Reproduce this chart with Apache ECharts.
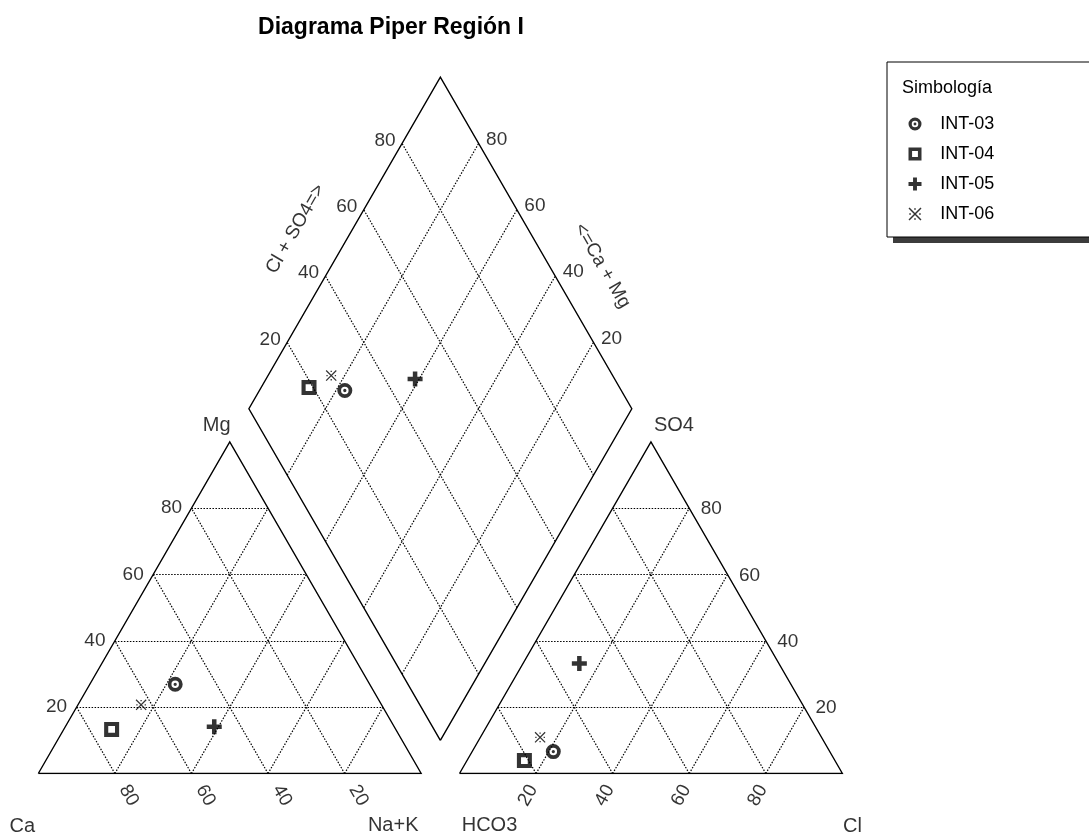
<!DOCTYPE html>
<html>
<head>
<meta charset="utf-8">
<script src="https://cdn.jsdelivr.net/npm/echarts@6/dist/echarts.min.js"></script>
<style>
  html, body { margin: 0; padding: 0; background: #fff; }
  #chart { width: 1089px; height: 838px; }
</style>
</head>
<body>
<div id="chart"></div>
<script>
// Samples and their ionic composition (% meq/L)
const samples  = ['INT-03', 'INT-04', 'INT-05', 'INT-06'];
const caPct    = [50.8, 74.2, 47.0, 62.8];
const mgPct    = [26.9, 13.3, 14.1, 20.7];
const nakPct   = [22.3, 12.5, 38.9, 16.5];
const hco3Pct  = [72.2, 81.1, 52.1, 73.5];
const so4Pct   = [6.6, 3.9, 33.2, 10.9];
const clPct    = [21.2, 15.0, 14.7, 15.6];

// Grid / tick values (%)
const tickValues = [20, 40, 60, 80];

// Layout of the three fields, in percent units (triangle side = 100)
const SIDE = 100, GAP = 10, H = Math.sqrt(3) / 2;
const X_MAX = 210, Y_MAX = 200;
const GRID_LEFT = 38.3, GRID_W = 804.1, GRID_BOTTOM = 64.5;
const PX = GRID_W / X_MAX;               // pixels per unit
const GRID_H = Y_MAX * PX;

const FONT = "'Liberation Sans', Arial, Helvetica, sans-serif";

// ternary -> cartesian
function cationXY(ca, mg, nak) { return [nak + mg / 2, mg * H]; }
function anionXY(hco3, so4, cl) { return [SIDE + GAP + cl + so4 / 2, so4 * H]; }
const B = [SIDE + GAP / 2, GAP * H];     // lower vertex of the diamond
function diamondXY(camg, clso4) {
  return [B[0] + (clso4 - camg) / 2, B[1] + (camg + clso4) * H];
}

// symbols
const SYM_CIRCLE = 'path://M10,0A10,10,0,1,1,10,20A10,10,0,1,1,10,0Z M10,5A5,5,0,1,0,10,15A5,5,0,1,0,10,5Z M10,7.8A2.2,2.2,0,1,1,10,12.2A2.2,2.2,0,1,1,10,7.8Z';
const SYM_SQUARE = 'path://M0,0L20,0L20,20L0,20Z M5.5,5.5L5.5,14.5L14.5,14.5L14.5,5.5Z';
const SYM_PLUS   = 'path://M7,0L13,0L13,7L20,7L20,13L13,13L13,20L7,20L7,13L0,13L0,7L7,7Z';
const SYM_REF    = 'path://M0,1.6L1.6,0L20,18.4L18.4,20Z M18.4,0L20,1.6L1.6,20L0,18.4Z M8.8,1.2L11.2,1.2L11.2,3.6L8.8,3.6Z M8.8,16.4L11.2,16.4L11.2,18.8L8.8,18.8Z M1.2,8.8L3.6,8.8L3.6,11.2L1.2,11.2Z M16.4,8.8L18.8,8.8L18.8,11.2L16.4,11.2Z';
const symbols = [SYM_CIRCLE, SYM_SQUARE, SYM_PLUS, SYM_REF];
const symbolSizes = [15, 15, 15, 11];

// ---- outlines
const outlines = [
  [cationXY(100, 0, 0), cationXY(0, 0, 100), cationXY(0, 100, 0), cationXY(100, 0, 0)],
  [anionXY(100, 0, 0), anionXY(0, 0, 100), anionXY(0, 100, 0), anionXY(100, 0, 0)],
  [diamondXY(0, 0), diamondXY(100, 0), diamondXY(100, 100), diamondXY(0, 100), diamondXY(0, 0)]
];

// ---- dotted grid
const gridSegs = [];
tickValues.forEach(k => {
  const r = 100 - k;
  // cation field
  gridSegs.push([cationXY(r, k, 0), cationXY(0, k, r)]);     // Mg = k
  gridSegs.push([cationXY(r, 0, k), cationXY(0, r, k)]);     // Na+K = k
  gridSegs.push([cationXY(k, 0, r), cationXY(k, r, 0)]);     // Ca = k
  // anion field
  gridSegs.push([anionXY(r, k, 0), anionXY(0, k, r)]);       // SO4 = k
  gridSegs.push([anionXY(r, 0, k), anionXY(0, r, k)]);       // Cl = k
  gridSegs.push([anionXY(k, 0, r), anionXY(k, r, 0)]);       // HCO3 = k
  // diamond
  gridSegs.push([diamondXY(k, 0), diamondXY(k, 100)]);       // Ca+Mg = k
  gridSegs.push([diamondXY(0, k), diamondXY(100, k)]);       // Cl+SO4 = k
});

// ---- text labels anchored to the fields
function lab(pt, text, dx, dy, rot, size) {
  return {
    value: [pt[0] + dx / PX, pt[1] - dy / PX],
    label: { formatter: text, rotate: rot || 0, fontSize: size || 19 }
  };
}
const labels = [];
tickValues.forEach(k => {
  const r = 100 - k;
  labels.push(lab(cationXY(r, k, 0), String(k), -20, 0));          // Mg
  labels.push(lab(cationXY(k, 0, r), String(k), 14, 22, -60));     // Ca
  labels.push(lab(anionXY(r, 0, k), String(k), -8, 22, 60));        // Cl
  labels.push(lab(anionXY(0, k, r), String(k), 22, 1));            // SO4
  labels.push(lab(diamondXY(100, k), String(k), -17, -3));          // Cl + SO4
  labels.push(lab(diamondXY(k, 100), String(k), 18, -4));           // Ca + Mg
});
labels.push(lab(diamondXY(100, 50), 'Cl + SO4=>', -49, -14, 60));
labels.push(lab(diamondXY(50, 100), '<=Ca + Mg', 66, 23, -60));
labels.push(lab(cationXY(100, 0, 0), 'Ca', -16, 53, 0, 20));
labels.push(lab(cationXY(0, 0, 100), 'Na+K', -28, 52, 0, 20));
labels.push(lab(cationXY(0, 100, 0), 'Mg', -13, -16, 0, 20));
labels.push(lab(anionXY(100, 0, 0), 'HCO3', 30, 52, 0, 20));
labels.push(lab(anionXY(0, 0, 100), 'Cl', 10, 53, 0, 20));
labels.push(lab(anionXY(0, 100, 0), 'SO4', 23, -16, 0, 20));

// ---- sample points in the three fields
const sampleSeries = samples.map((name, i) => ({
  name,
  type: 'scatter',
  symbol: symbols[i],
  symbolSize: symbolSizes[i],
  symbolKeepAspect: true,
  clip: false,
  z: 5,
  itemStyle: { color: '#000' },
  emphasis: { disabled: true },
  data: [
    cationXY(caPct[i], mgPct[i], nakPct[i]),
    anionXY(hco3Pct[i], so4Pct[i], clPct[i]),
    diamondXY(caPct[i] + mgPct[i], clPct[i] + so4Pct[i])
  ]
}));

const chart = echarts.init(document.getElementById('chart'), null, { renderer: 'canvas' });
chart.setOption({
  animation: false,
  backgroundColor: '#fff',
  title: {
    text: 'Diagrama Piper Región I',
    left: 386, top: 11, textAlign: 'center',
    textStyle: { fontFamily: FONT, fontSize: 23, fontWeight: 'bold', color: '#000' }
  },
  grid: { left: GRID_LEFT, width: GRID_W, bottom: GRID_BOTTOM, height: GRID_H },
  xAxis: { type: 'value', min: 0, max: X_MAX, show: false },
  yAxis: { type: 'value', min: 0, max: Y_MAX, show: false },
  legend: {
    data: samples,
    orient: 'vertical',
    left: 903.5, top: 110,
    itemWidth: 40.5, itemHeight: 13, itemGap: 12,
    selectedMode: false,
    textStyle: { fontFamily: FONT, fontSize: 18, lineHeight: 18, color: '#000' }
  },
  graphic: [
    { type: 'rect', shape: { x: 893, y: 68, width: 215, height: 175 }, style: { fill: '#3c3c3c' }, z: 0 },
    { type: 'rect', shape: { x: 887, y: 62, width: 215, height: 175 }, style: { fill: '#fff', stroke: '#000', lineWidth: 1 }, z: 1 },
    { type: 'text', x: 902, y: 88, style: { text: 'Simbología', fontFamily: FONT, fontSize: 18, fill: '#000', verticalAlign: 'middle' }, z: 2 }
  ],
  series: [
    {
      type: 'lines', coordinateSystem: 'cartesian2d', silent: true, z: 1,
      lineStyle: { color: '#000', width: 1.2, type: [1.5, 1.5], opacity: 1 },
      data: gridSegs.map(s => ({ coords: s }))
    },
    {
      type: 'lines', coordinateSystem: 'cartesian2d', polyline: true, silent: true, z: 2,
      lineStyle: { color: '#000', width: 1.4, type: 'solid', opacity: 1 },
      data: outlines.map(p => ({ coords: p }))
    },
    ...sampleSeries,
    {
      type: 'scatter', silent: true, clip: false, z: 3,
      symbolSize: 0,
      itemStyle: { color: 'transparent' },
      label: {
        show: true, position: 'inside', color: '#000', fontFamily: FONT,
        align: 'center', verticalAlign: 'middle'
      },
      emphasis: { disabled: true },
      data: labels
    }
  ]
});
</script>
</body>
</html>
